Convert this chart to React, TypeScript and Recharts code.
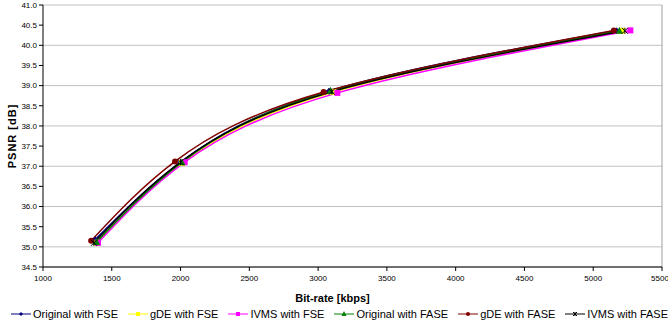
import { LineChart, Line, XAxis, YAxis, CartesianGrid, Legend, ReferenceLine } from "recharts";

const origFse = [
  { x: 1380, y: 35.18 }, { x: 2000, y: 37.1 }, { x: 3080, y: 38.87 }, { x: 5170, y: 40.37 },
];
const gdeFse = [
  { x: 1390, y: 35.1 }, { x: 2010, y: 37.08 }, { x: 3110, y: 38.84 }, { x: 5210, y: 40.36 },
];
const ivmsFse = [
  { x: 1400, y: 35.1 }, { x: 2030, y: 37.1 }, { x: 3140, y: 38.82 }, { x: 5270, y: 40.37 },
];
const origFase = [
  { x: 1390, y: 35.12 }, { x: 2010, y: 37.1 }, { x: 3090, y: 38.87 }, { x: 5190, y: 40.36 },
];
const gdeFase = [
  { x: 1350, y: 35.15 }, { x: 1960, y: 37.12 }, { x: 3040, y: 38.84 }, { x: 5150, y: 40.37 },
];
const ivmsFase = [
  { x: 1370, y: 35.1 }, { x: 2000, y: 37.1 }, { x: 3100, y: 38.85 }, { x: 5230, y: 40.36 },
];

const xTicks = [1000, 1500, 2000, 2500, 3000, 3500, 4000, 4500, 5000, 5500];
const yTicks = [34.5, 35, 35.5, 36, 36.5, 37, 37.5, 38, 38.5, 39, 39.5, 40, 40.5, 41];

type Shape = "diamond" | "square" | "triangle" | "circle" | "cross";

const series: { name: string; data: { x: number; y: number }[]; color: string; shape: Shape }[] = [
  { name: "Original with FSE", data: origFse, color: "#000080", shape: "diamond" },
  { name: "gDE with FSE", data: gdeFse, color: "#ffff00", shape: "square" },
  { name: "IVMS with FSE", data: ivmsFse, color: "#ff00ff", shape: "square" },
  { name: "Original with FASE", data: origFase, color: "#008000", shape: "triangle" },
  { name: "gDE with FASE", data: gdeFase, color: "#800000", shape: "circle" },
  { name: "IVMS with FASE", data: ivmsFase, color: "#000000", shape: "cross" },
];

const font = "'Liberation Sans', Arial, sans-serif";

function Marker({ cx, cy, color, shape, s = 3 }: { cx: number; cy: number; color: string; shape: Shape; s?: number }) {
  if (shape === "diamond")
    return <polygon points={`${cx},${cy - s} ${cx + s},${cy} ${cx},${cy + s} ${cx - s},${cy}`} fill={color} />;
  if (shape === "square") return <rect x={cx - s} y={cy - s} width={s * 2} height={s * 2} fill={color} />;
  if (shape === "triangle")
    return <polygon points={`${cx},${cy - s - 1} ${cx + s + 0.5},${cy + s} ${cx - s - 0.5},${cy + s}`} fill={color} />;
  if (shape === "circle") return <circle cx={cx} cy={cy} r={s} fill={color} />;
  return (
    <g stroke={color} strokeWidth={1}>
      <line x1={cx - s} y1={cy - s} x2={cx + s} y2={cy + s} />
      <line x1={cx - s} y1={cy + s} x2={cx + s} y2={cy - s} />
      <line x1={cx} y1={cy - s} x2={cx} y2={cy + s} />
    </g>
  );
}

function LegendBox() {
  return (
    <div style={{ display: "flex", gap: 10, fontFamily: font, fontSize: 11, color: "#000", paddingLeft: 11 }}>
      {series.map((s) => (
        <div key={s.name} style={{ display: "flex", alignItems: "center", whiteSpace: "nowrap" }}>
          <svg width={20} height={10}>
            <line x1={0} y1={5} x2={20} y2={5} stroke={s.color} strokeWidth={1} />
            <Marker cx={10} cy={5} color={s.color} shape={s.shape} s={2} />
          </svg>
          <span style={{ marginLeft: 2 }}>{s.name}</span>
        </div>
      ))}
    </div>
  );
}

export default function App() {
  return (
    <div style={{ position: "absolute", left: 0, top: 0, background: "#fff" }}>
      <LineChart width={668} height={326} margin={{ top: 5, right: 6, left: 0, bottom: 6 }}>
        <CartesianGrid vertical={false} stroke="#c0c0c0" />
        <XAxis
          type="number"
          dataKey="x"
          domain={[1000, 5500]}
          ticks={xTicks}
          allowDataOverflow
          height={41}
          stroke="#000"
          tickSize={4}
          tickMargin={4}
          tick={{ fontSize: 8, fontFamily: font, fill: "#000" }}
          label={{ value: "Bit-rate [kbps]", position: "insideBottom", offset: 6, dx: -20, style: { fontSize: 11, fontWeight: "bold", fontFamily: font, fill: "#000" } }}
        />
        <YAxis
          type="number"
          domain={[34.5, 41]}
          ticks={yTicks}
          allowDataOverflow
          width={43}
          stroke="#000"
          tickSize={4}
          tickFormatter={(v: number) => v.toFixed(1)}
          tick={{ fontSize: 8, fontFamily: font, fill: "#000" }}
          label={{ value: "PSNR [dB]", angle: -90, position: "insideLeft", offset: 12, style: { textAnchor: "middle", fontSize: 11, fontWeight: "bold", letterSpacing: 1, fontFamily: font, fill: "#000" } }}
        />
        <ReferenceLine x={5500} stroke="#a0a0a0" />
        {series.map((s) => (
          <Line
            key={s.name}
            data={s.data}
            dataKey="y"
            name={s.name}
            type="natural"
            stroke={s.color}
            strokeWidth={1.5}
            isAnimationActive={false}
            dot={(p: any) => <Marker key={`${s.name}-${p.index}`} cx={p.cx} cy={p.cy} color={s.color} shape={s.shape} />}
          />
        ))}
        <Legend verticalAlign="bottom" content={() => <LegendBox />} />
      </LineChart>
    </div>
  );
}
